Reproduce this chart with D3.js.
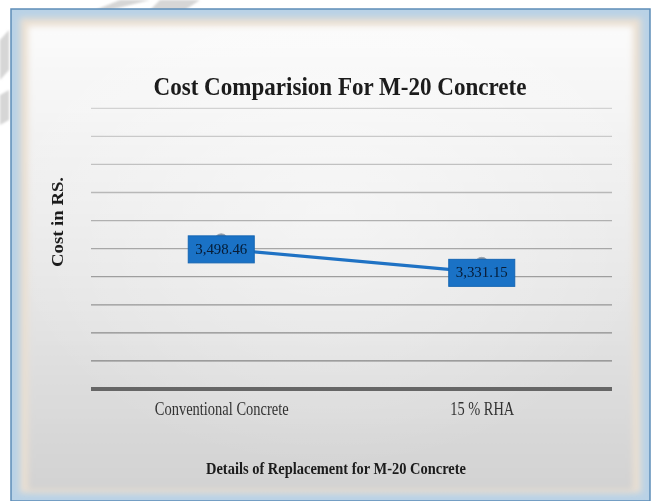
<!DOCTYPE html>
<html>
<head>
<meta charset="utf-8">
<script src="https://cdn.jsdelivr.net/npm/d3@7"></script>
<style>
  html, body { margin: 0; padding: 0; background: #ffffff; }
  svg { display: block; }
  text { font-family: "Liberation Serif", "Times New Roman", serif; }
</style>
</head>
<body>
<svg id="chart" width="657" height="501"></svg>
<script>
// Cost of M-20 concrete per mix
const categories = ["Conventional Concrete", "15 % RHA"];
const costValues = [3498.46, 3331.15];
const valueLabels = ["3,498.46", "3,331.15"];
const yDomain = [2500, 4500];
const yStep = 200;

const chartTitle = "Cost Comparision For M-20 Concrete";
const xAxisTitle = "Details of Replacement for M-20 Concrete";
const yAxisTitle = "Cost in RS.";

const serif = "'Liberation Serif', 'Times New Roman', serif";

const svg = d3.select("#chart");
const defs = svg.append("defs");

// soft-edged frame pieces
defs.append("filter").attr("id", "soft").attr("x", "-5%").attr("y", "-5%")
  .attr("width", "110%").attr("height", "110%")
  .append("feGaussianBlur").attr("stdDeviation", 3);
defs.append("filter").attr("id", "softer")
  .append("feGaussianBlur").attr("stdDeviation", 1.2);
defs.append("filter").attr("id", "textSoft")
  .append("feGaussianBlur").attr("stdDeviation", 0.35);

const bg = defs.append("linearGradient").attr("id", "plotBg")
  .attr("x1", 0).attr("y1", 0).attr("x2", 0).attr("y2", 1);
bg.append("stop").attr("offset", "0%").attr("stop-color", "#fbfbfb");
bg.append("stop").attr("offset", "25%").attr("stop-color", "#f2f2f2");
bg.append("stop").attr("offset", "60%").attr("stop-color", "#e5e5e5");
bg.append("stop").attr("offset", "100%").attr("stop-color", "#d2d2d2");

const glow = defs.append("radialGradient").attr("id", "centerGlow")
  .attr("cx", "50%").attr("cy", "40%").attr("r", "55%");
glow.append("stop").attr("offset", "0%").attr("stop-color", "#ffffff").attr("stop-opacity", 0.45);
glow.append("stop").attr("offset", "100%").attr("stop-color", "#ffffff").attr("stop-opacity", 0);

// faint grey strokes outside the frame
const wm = svg.append("g").attr("fill", "#d6d6d6").attr("filter", "url(#softer)");
wm.append("path").attr("d", "M120,0 L150,0 L110,10 L95,10 Z");
wm.append("path").attr("d", "M160,0 L200,0 L185,10 L150,10 Z");
wm.append("path").attr("d", "M0,40 L9,30 L9,70 L0,80 Z");
wm.append("path").attr("d", "M0,95 L9,90 L9,120 L0,125 Z");

// frame
svg.append("rect").attr("x", 11).attr("y", 9).attr("width", 639).attr("height", 492)
  .attr("fill", "#b9d2e6").attr("stroke", "#5d8db8").attr("stroke-width", 1.5);
svg.append("rect").attr("x", 20).attr("y", 18).attr("width", 621).attr("height", 475)
  .attr("fill", "#eadfd2").attr("filter", "url(#soft)");
svg.append("rect").attr("x", 28).attr("y", 26).attr("width", 605).attr("height", 464)
  .attr("fill", "url(#plotBg)").attr("filter", "url(#soft)");
svg.append("rect").attr("x", 28).attr("y", 26).attr("width", 605).attr("height", 464)
  .attr("fill", "url(#centerGlow)");

// scales
const x = d3.scalePoint().domain(categories).range([91, 612]).padding(0.5);
const y = d3.scaleLinear().domain(yDomain).range([389, 108.3]);
const ticks = d3.range(yDomain[0], yDomain[1] + 1, yStep);
const shade = d3.scaleLinear().domain([yDomain[1], yDomain[0]]).range(["#d2d2d2", "#7c7c7c"]);

// horizontal gridlines
svg.append("g").selectAll("line").data(ticks.filter(t => t > yDomain[0])).join("line")
  .attr("x1", 91).attr("x2", 612)
  .attr("y1", d => y(d)).attr("y2", d => y(d))
  .attr("stroke", d => shade(d)).attr("stroke-width", 1.3);

// category axis
const xAxis = svg.append("g").attr("transform", `translate(0,${y(yDomain[0])})`)
  .call(d3.axisBottom(x).tickSize(0).tickPadding(26));
xAxis.select(".domain").attr("d", "M91,0H612").attr("stroke", "#666").attr("stroke-width", 4);
xAxis.selectAll(".tick text")
  .attr("font-family", serif)
  .attr("font-size", 19).attr("fill", "#333")
  .attr("dy", 0)
  .attr("filter", "url(#textSoft)")
  .attr("textLength", (d, i) => i === 0 ? 134 : 64)
  .attr("lengthAdjust", "spacingAndGlyphs");

// series line
const pts = categories.map((c, i) => ({ c, v: costValues[i], label: valueLabels[i] }));
svg.append("path").datum(pts)
  .attr("fill", "none").attr("stroke", "#1f72c4").attr("stroke-width", 3.2)
  .attr("d", d3.line().x(d => x(d.c)).y(d => y(d.v)));

// markers
svg.append("g").selectAll("circle").data(pts).join("circle")
  .attr("cx", d => x(d.c)).attr("cy", d => y(d.v) - 8).attr("r", 7)
  .attr("fill", "#7f8c9b").attr("stroke", "#9aa5b1").attr("stroke-width", 1);

// value labels
const lab = svg.append("g").selectAll("g").data(pts).join("g")
  .attr("transform", d => `translate(${x(d.c)},${y(d.v)})`);
lab.append("rect").attr("x", -33).attr("y", -13).attr("width", 66).attr("height", 27)
  .attr("fill", "#1a72c6").attr("stroke", "#1565b3").attr("stroke-width", 1);
lab.append("text").attr("text-anchor", "middle").attr("dy", 5)
  .attr("font-family", serif)
  .attr("font-size", 14).attr("fill", "#081a33")
  .attr("filter", "url(#textSoft)")
  .attr("textLength", 52).attr("lengthAdjust", "spacingAndGlyphs")
  .text(d => d.label);

// titles
svg.append("text").attr("x", 340).attr("y", 95).attr("text-anchor", "middle")
  .attr("font-family", serif)
  .attr("font-weight", "bold").attr("font-size", 26).attr("fill", "#1a1a1a")
  .attr("filter", "url(#textSoft)")
  .attr("textLength", 373).attr("lengthAdjust", "spacingAndGlyphs")
  .text(chartTitle);

svg.append("text").attr("x", 336).attr("y", 474).attr("text-anchor", "middle")
  .attr("font-family", serif)
  .attr("font-weight", "bold").attr("font-size", 16).attr("fill", "#1a1a1a")
  .attr("filter", "url(#textSoft)")
  .attr("textLength", 260).attr("lengthAdjust", "spacingAndGlyphs")
  .text(xAxisTitle);

svg.append("text").attr("transform", "translate(63,222) rotate(-90)")
  .attr("text-anchor", "middle")
  .attr("font-family", serif)
  .attr("font-weight", "bold").attr("font-size", 17).attr("fill", "#1a1a1a")
  .attr("filter", "url(#textSoft)")
  .attr("textLength", 90).attr("lengthAdjust", "spacingAndGlyphs")
  .text(yAxisTitle);
</script>
</body>
</html>
